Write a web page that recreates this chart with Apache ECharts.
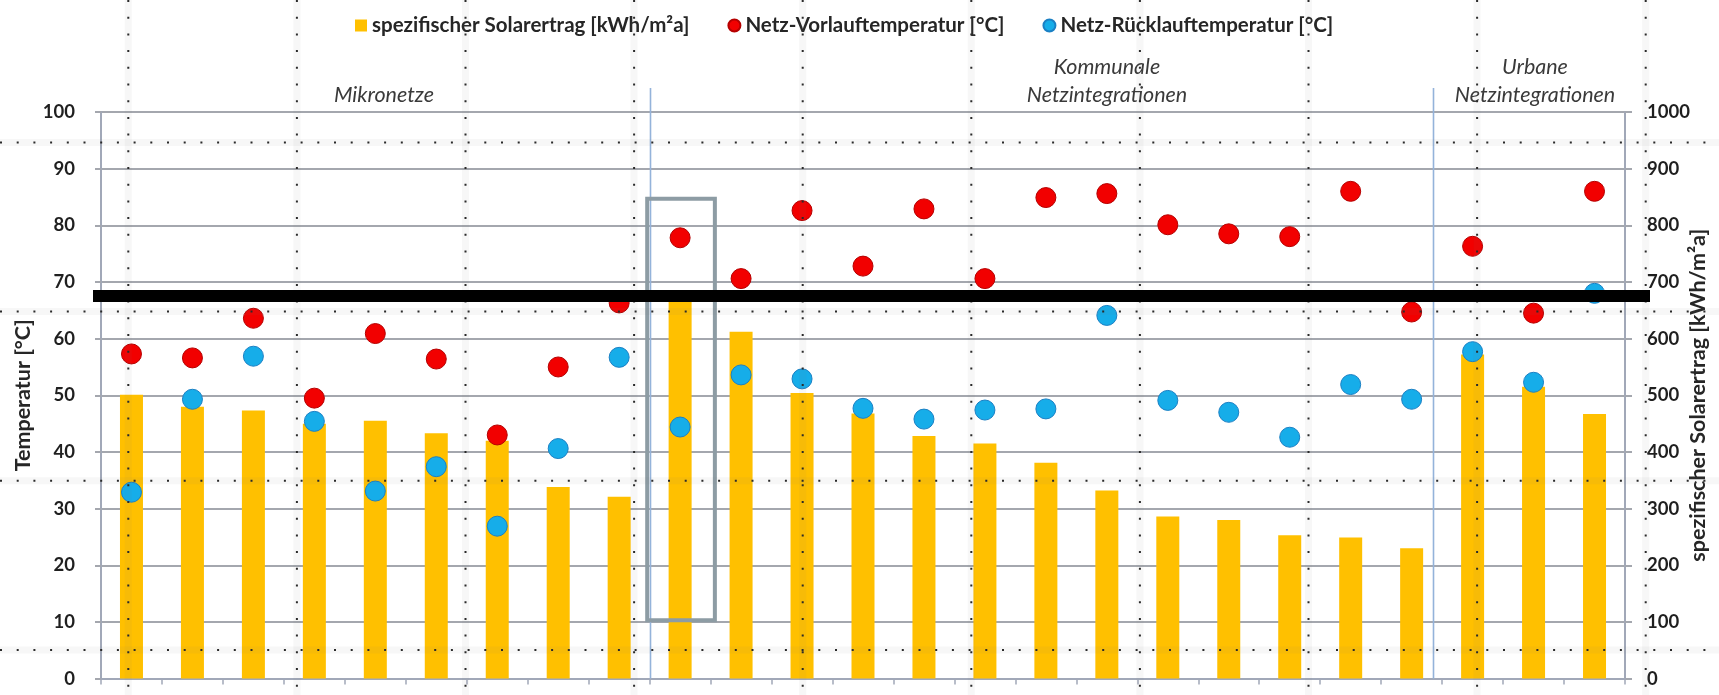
<!DOCTYPE html>
<html>
<head>
<meta charset="utf-8">
<script src="https://cdn.jsdelivr.net/npm/echarts@6/dist/echarts.min.js"></script>
<style>
  html, body { margin: 0; padding: 0; background: #ffffff; }
  #chart { width: 1719px; height: 695px; }
</style>
</head>
<body>
<div id="chart"></div>
<script>
// Projects, grouped: 9 micro grids, 13 municipal grid integrations, 3 urban grid integrations
const categories = [
  'M1', 'M2', 'M3', 'M4', 'M5', 'M6', 'M7', 'M8', 'M9',
  'K1', 'K2', 'K3', 'K4', 'K5', 'K6', 'K7', 'K8', 'K9', 'K10', 'K11', 'K12', 'K13',
  'U1', 'U2', 'U3'
];

// specific solar yield [kWh/m²a] (right axis)
const solarYield = [
  501, 480, 473, 450, 455, 433, 420, 338, 321,
  665, 612, 504, 468, 428, 415, 381, 332, 286, 280, 253, 249, 230,
  572, 515, 467
];

// supply temperature [°C]
const supplyTemp = [
  57.3, 56.6, 63.6, 49.5, 60.9, 56.4, 43.0, 55.0, 66.3,
  77.8, 70.6, 82.6, 72.8, 82.9, 70.6, 84.9, 85.6, 80.1, 78.5, 78.0, 86.0, 64.7,
  76.3, 64.5, 86.0
];

// return temperature [°C]
const returnTemp = [
  32.9, 49.3, 56.9, 45.4, 33.1, 37.4, 26.9, 40.6, 56.7,
  44.4, 53.6, 52.9, 47.7, 45.8, 47.4, 47.6, 64.1, 49.1, 47.0, 42.6, 51.9, 49.3,
  57.7, 52.3, 68.0
];

const tempTicks = [0, 100, 10];      // min, max, step of the temperature axis
const yieldTicks = [0, 1000, 100];   // min, max, step of the yield axis

// group boundaries (in category units) and group captions
const groupDividers = [9, 21.85];
const groupCaptions = [
  { text: 'Mikronetze', x: 384 },
  { text: 'Kommunale\nNetzintegrationen', x: 1107 },
  { text: 'Urbane\nNetzintegrationen', x: 1535 }
];
// highlighted project frame: [x0, x1] in category units, [y0, y1] in °C
const highlightFrame = { x: [8.96, 10.07], y: [10.3, 84.7] };

const FONT = 'Lato, "Open Sans", sans-serif';
const GRID = { left: 101, right: 94, top: 112, bottom: 16.4 };
const gridColor = '#a4a7ae';
const axisColor = '#a1a8b8';

const chart = echarts.init(document.getElementById('chart'), null, { renderer: 'canvas' });

chart.setOption({
  animation: false,
  backgroundColor: '#ffffff',
  legend: {
    left: 350,
    top: 10,
    itemWidth: 12,
    itemHeight: 12,
    itemGap: 38,
    textStyle: { fontFamily: FONT, fontSize: 20.5, fontWeight: 'bold', color: '#262626' },
    data: [
      { name: 'spezifischer Solarertrag [kWh/m²a]', icon: 'rect' },
      { name: 'Netz-Vorlauftemperatur [°C]', icon: 'circle' },
      { name: 'Netz-Rücklauftemperatur [°C]', icon: 'circle' }
    ]
  },
  grid: {
    left: GRID.left, right: GRID.right, top: GRID.top, bottom: GRID.bottom,
    containLabel: false, outerBoundsMode: 'none'
  },
  xAxis: [
    {
      type: 'category',
      data: categories,
      boundaryGap: true,
      axisLine: { show: true, lineStyle: { color: axisColor, width: 2 } },
      axisTick: { show: true, interval: 0, length: 6, lineStyle: { color: axisColor, width: 1.5 } },
      axisLabel: { show: false },
      splitLine: { show: false }
    },
    {
      type: 'value', min: 0, max: 25, show: false
    }
  ],
  yAxis: [
    {
      type: 'value',
      position: 'left',
      min: tempTicks[0], max: tempTicks[1], interval: tempTicks[2],
      name: 'Temperatur [°C]',
      nameLocation: 'middle',
      nameGap: 67,
      nameRotate: 90,
      nameMoveOverlap: false,
      nameTextStyle: { fontFamily: FONT, fontSize: 21.5, fontWeight: 'bold', color: '#262626' },
      axisLine: { show: true, lineStyle: { color: axisColor, width: 2 } },
      axisTick: { show: true, length: 6, lineStyle: { color: gridColor, width: 2 } },
      axisLabel: { margin: 26, fontFamily: FONT, fontSize: 18.5, fontWeight: 'bold', color: '#1f1f1f' },
      splitLine: { show: true, lineStyle: { color: gridColor, width: 2 } }
    },
    {
      type: 'value',
      position: 'right',
      min: yieldTicks[0], max: yieldTicks[1], interval: yieldTicks[2],
      name: 'spezifischer Solarertrag [kWh/m²a]',
      nameLocation: 'middle',
      nameGap: 62,
      nameRotate: 90,
      nameMoveOverlap: false,
      nameTextStyle: { fontFamily: FONT, fontSize: 21.5, fontWeight: 'bold', color: '#262626' },
      axisLine: { show: true, lineStyle: { color: axisColor, width: 2 } },
      axisTick: { show: true, length: 7, lineStyle: { color: gridColor, width: 2 } },
      axisLabel: {
        margin: 22, fontFamily: FONT, fontSize: 18.5, fontWeight: 'bold', color: '#1f1f1f',
        formatter: function (v) { return String(v); }
      },
      splitLine: { show: false }
    }
  ],
  series: [
    {
      name: 'spezifischer Solarertrag [kWh/m²a]',
      type: 'bar',
      xAxisIndex: 0,
      yAxisIndex: 1,
      barWidth: 23,
      itemStyle: { color: '#ffc000' },
      data: solarYield,
      z: 2
    },
    {
      name: 'Netz-Vorlauftemperatur [°C]',
      type: 'scatter',
      xAxisIndex: 0,
      yAxisIndex: 0,
      symbol: 'circle',
      symbolSize: 20,
      itemStyle: { color: '#f20000', borderColor: '#b50000', borderWidth: 1, opacity: 1 },
      data: supplyTemp,
      z: 3
    },
    {
      name: 'Netz-Rücklauftemperatur [°C]',
      type: 'scatter',
      xAxisIndex: 0,
      yAxisIndex: 0,
      symbol: 'circle',
      symbolSize: 20,
      itemStyle: { color: '#16ade9', borderColor: '#1b80c4', borderWidth: 1, opacity: 1 },
      data: returnTemp,
      z: 4
    }
  ]
});

// Overlays: group dividers, group captions, highlight frame, page dot raster, black strip
function px(x, y) {
  return chart.convertToPixel({ xAxisIndex: 1, yAxisIndex: 0 }, [x, y]);
}

const graphics = [];
const bottomY = px(0, 0)[1];
const topY = px(0, 100)[1];

groupDividers.forEach(function (v) {
  const x = Math.round(px(v, 0)[0]) + 0.5;
  graphics.push({
    type: 'line', z: 5, silent: true,
    shape: { x1: x, y1: topY - 24, x2: x, y2: bottomY },
    style: { stroke: '#94b3da', lineWidth: 1.6 }
  });
});

groupCaptions.forEach(function (c) {
  const lines = c.text.split('\n');
  lines.forEach(function (t, i) {
    const y = 95 - (lines.length - 1 - i) * 28;
    graphics.push({
      type: 'text', z: 6, silent: true,
      style: {
        text: t, x: c.x, y: y,
        textAlign: 'center', textVerticalAlign: 'middle',
        font: 'italic 21.5px ' + FONT,
        fill: '#3a3a3a'
      }
    });
  });
});

const f0 = px(highlightFrame.x[0], highlightFrame.y[1]);
const f1 = px(highlightFrame.x[1], highlightFrame.y[0]);
graphics.push({
  type: 'rect', z: 7, silent: true,
  shape: { x: f0[0], y: f0[1], width: f1[0] - f0[0], height: f1[1] - f0[1] },
  style: { fill: 'none', stroke: '#8d9ca4', lineWidth: 4 }
});

// dotted raster lines across the page
const rasterX = [128.3, 296.9, 465.5, 634.1, 802.7, 971.3, 1139.9, 1308.5, 1477.1, 1645.7];
const rasterY = [142.4, 311.6, 480.8, 650.0];
function rasterLine(shape) {
  graphics.push({
    type: 'line', z: 8, silent: true, shape: shape,
    style: { stroke: 'rgba(120,120,120,0.06)', lineWidth: 7 }
  });
  graphics.push({
    type: 'line', z: 9, silent: true, shape: shape,
    style: { stroke: '#2a2a2a', lineWidth: 2, lineDash: [2, 14.7] }
  });
}
rasterX.forEach(function (x) { rasterLine({ x1: x, y1: 0, x2: x, y2: 695 }); });
rasterY.forEach(function (y) { rasterLine({ x1: 0, y1: y, x2: 1719, y2: y }); });

// black strip across the plot
graphics.push({
  type: 'rect', z: 10, silent: true,
  shape: { x: 93, y: 290, width: 1557, height: 12 },
  style: { fill: '#000000' }
});

chart.setOption({ graphic: graphics });
</script>
</body>
</html>
